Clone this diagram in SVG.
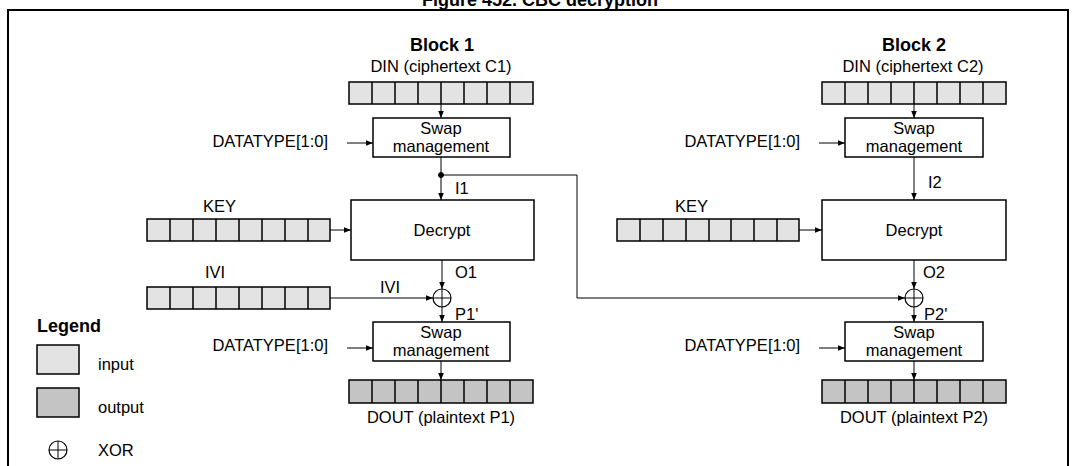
<svg xmlns="http://www.w3.org/2000/svg" width="1077" height="466" viewBox="0 0 1077 466">
<defs>
<style>
text{font-family:"Liberation Sans",Arial,sans-serif;font-size:16.5px;fill:#000}
.b{font-weight:bold;font-size:18px}
.box{fill:#fff;stroke:#000;stroke-width:1.5}
.in{fill:#e3e3e3;stroke:#000;stroke-width:1.5}
.out{fill:#c4c4c4;stroke:#000;stroke-width:1.5}
.ln{fill:none;stroke:#000;stroke-width:1}
.x{fill:#fff;stroke:#000;stroke-width:1.2}
</style>
<marker id="a" viewBox="0 0 10 10" refX="10" refY="5" markerWidth="7" markerHeight="7" orient="auto"><path d="M0,1 L10,5 L0,9 z" fill="#000"/></marker>
</defs>
<rect width="1077" height="466" fill="#fff"/>
<text class="b" x="540" y="6" text-anchor="middle">Figure 452. CBC decryption</text>
<rect x="8" y="10" width="1060" height="470" fill="none" stroke="#000" stroke-width="2"/>

<g id="block1">
<text class="b" x="442" y="51" text-anchor="middle">Block 1</text>
<text x="441" y="72" text-anchor="middle">DIN (ciphertext C1)</text>
<g id="din1"><rect class="in" x="349" y="82" width="184" height="22"/></g>
<g id="swap1a"><rect class="box" x="373" y="118" width="137" height="39"/><text x="441" y="134" text-anchor="middle">Swap</text><text x="441" y="152" text-anchor="middle">management</text></g>
<text x="328" y="147" text-anchor="end">DATATYPE[1:0]</text>
<text x="455" y="194">I1</text>
<text x="203" y="212">KEY</text>
<g id="key1"><rect class="in" x="147" y="219" width="183" height="22"/></g>
<g id="dec1"><rect class="box" x="351" y="200" width="183" height="60"/><text x="442" y="236" text-anchor="middle">Decrypt</text></g>
<text x="455" y="278">O1</text>
<text x="205" y="278">IVI</text>
<g id="ivi1"><rect class="in" x="147" y="287" width="183" height="22"/></g>
<text x="380" y="293">IVI</text>
<g id="xor1"><circle class="x" cx="442" cy="298" r="9"/><path class="ln" d="M433,298 H451 M442,289 V307"/></g>
<text x="455" y="320">P1'</text>
<g id="swap1b"><rect class="box" x="373" y="322" width="137" height="39"/><text x="441" y="338" text-anchor="middle">Swap</text><text x="441" y="356" text-anchor="middle">management</text></g>
<text x="328" y="351" text-anchor="end">DATATYPE[1:0]</text>
<g id="dout1"><rect class="out" x="349" y="380" width="184" height="23"/></g>
<text x="441" y="423" text-anchor="middle">DOUT (plaintext P1)</text>
</g>

<g id="block2">
<text class="b" x="914" y="51" text-anchor="middle">Block 2</text>
<text x="913" y="72" text-anchor="middle">DIN (ciphertext C2)</text>
<g id="din2"><rect class="in" x="822" y="82" width="184" height="22"/></g>
<g id="swap2a"><rect class="box" x="845" y="118" width="138" height="39"/><text x="914" y="134" text-anchor="middle">Swap</text><text x="914" y="152" text-anchor="middle">management</text></g>
<text x="800" y="147" text-anchor="end">DATATYPE[1:0]</text>
<text x="928" y="188">I2</text>
<text x="675" y="212">KEY</text>
<g id="key2"><rect class="in" x="617" y="219" width="182" height="22"/></g>
<g id="dec2"><rect class="box" x="822" y="200" width="184" height="60"/><text x="914" y="236" text-anchor="middle">Decrypt</text></g>
<text x="923" y="278">O2</text>
<g id="xor2"><circle class="x" cx="914" cy="298" r="9"/><path class="ln" d="M905,298 H923 M914,289 V307"/></g>
<text x="924" y="320">P2'</text>
<g id="swap2b"><rect class="box" x="845" y="322" width="138" height="39"/><text x="914" y="338" text-anchor="middle">Swap</text><text x="914" y="356" text-anchor="middle">management</text></g>
<text x="800" y="351" text-anchor="end">DATATYPE[1:0]</text>
<g id="dout2"><rect class="out" x="822" y="380" width="184" height="23"/></g>
<text x="914" y="423" text-anchor="middle">DOUT (plaintext P2)</text>
</g>

<g id="cellDividers" stroke="#000" stroke-width="1.5">
<path d="M372,82v22M395,82v22M418,82v22M441,82v22M464,82v22M487,82v22M510,82v22"/>
<path d="M372,380v23M395,380v23M418,380v23M441,380v23M464,380v23M487,380v23M510,380v23"/>
<path d="M845,82v22M868,82v22M891,82v22M914,82v22M937,82v22M960,82v22M983,82v22"/>
<path d="M845,380v23M868,380v23M891,380v23M914,380v23M937,380v23M960,380v23M983,380v23"/>
<path d="M170,219v22M193,219v22M216,219v22M239,219v22M262,219v22M285,219v22M308,219v22"/>
<path d="M170,287v22M193,287v22M216,287v22M239,287v22M262,287v22M285,287v22M308,287v22"/>
<path d="M640,219v22M663,219v22M686,219v22M709,219v22M731,219v22M754,219v22M777,219v22"/>
</g>

<g id="legend">
<text class="b" x="37" y="332">Legend</text>
<rect class="in" x="37" y="345" width="42" height="29"/>
<text x="98" y="370">input</text>
<rect class="out" x="37" y="388" width="42" height="29"/>
<text x="98" y="413">output</text>
<circle class="x" cx="58" cy="450" r="9"/><path class="ln" d="M49,450 H67 M58,441 V459"/>
<text x="98" y="456">XOR</text>
</g>

<g id="connectors" class="ln">
<path class="ln" d="M441,104 V118" marker-end="url(#a)"/>
<path class="ln" d="M347,143 H373" marker-end="url(#a)"/>
<path class="ln" d="M441,157 V200" marker-end="url(#a)"/>
<circle cx="441" cy="175" r="2.5" fill="#000"/>
<path class="ln" d="M441,175 H577 V298 H905" marker-end="url(#a)"/>
<path class="ln" d="M330,230 H351" marker-end="url(#a)"/>
<path class="ln" d="M442,260 V289" marker-end="url(#a)"/>
<path class="ln" d="M330,298 H433" marker-end="url(#a)"/>
<path class="ln" d="M442,307 V322" marker-end="url(#a)"/>
<path class="ln" d="M347,348 H373" marker-end="url(#a)"/>
<path class="ln" d="M441,361 V380" marker-end="url(#a)"/>
<path class="ln" d="M914,104 V118" marker-end="url(#a)"/>
<path class="ln" d="M819,143 H845" marker-end="url(#a)"/>
<path class="ln" d="M914,157 V200" marker-end="url(#a)"/>
<path class="ln" d="M799,230 H822" marker-end="url(#a)"/>
<path class="ln" d="M914,260 V289" marker-end="url(#a)"/>
<path class="ln" d="M914,307 V322" marker-end="url(#a)"/>
<path class="ln" d="M819,348 H845" marker-end="url(#a)"/>
<path class="ln" d="M914,361 V380" marker-end="url(#a)"/>
</g>
</svg>
